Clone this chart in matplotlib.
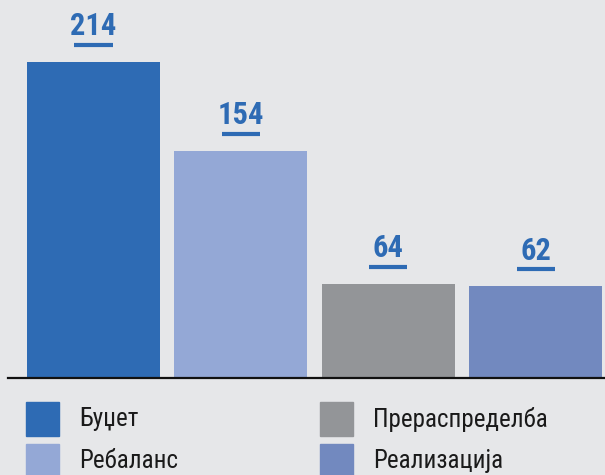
import matplotlib
matplotlib.use("Agg")
import matplotlib.pyplot as plt
from matplotlib import font_manager
from matplotlib.patches import Rectangle

categories = ["Буџет", "Ребаланс", "Прераспределба", "Реализација"]
values = [214, 154, 64, 62]
colors = ["#2e6bb4", "#94a8d6", "#939598", "#7289bf"]
label_color = "#2e6bb4"
bg = "#e6e7e9"

avail = {f.name for f in font_manager.fontManager.ttflist}
font = "DejaVu Sans"
for cand in ["Liberation Sans Narrow", "Roboto Condensed", "DejaVu Sans Condensed", "Roboto", "Noto Sans"]:
    if cand in avail:
        font = cand
        break
plt.rcParams["font.family"] = [font, "DejaVu Sans"]

W, H = 605, 475
fig = plt.figure(figsize=(W / 100, H / 100), dpi=100, facecolor=bg)
ax = fig.add_axes([8 / W, 97 / H, (W - 8) / W, (H - 97) / H])
ax.set_facecolor(bg)

x = list(range(len(values)))
ax.bar(x, values, width=0.903, color=colors, zorder=2)
ax.set_xlim(-0.58, 3.47)
ax.set_ylim(0, 256)

for i, v in zip(x, values):
    ax.annotate(str(v), xy=(i, v), xytext=(0, 15), textcoords="offset points",
                ha="center", va="bottom", fontsize=22, fontweight="bold",
                color=label_color)
    ax.plot([i - 0.13, i + 0.13], [v + 11.5, v + 11.5], color=label_color,
            lw=3, solid_capstyle="butt", zorder=3)

for s in ["top", "right", "left"]:
    ax.spines[s].set_visible(False)
ax.spines["bottom"].set_linewidth(1.6)
ax.spines["bottom"].set_color("#111111")
ax.set_xticks([])
ax.set_yticks([])

# legend
pos = [(26, 402), (26, 444), (320, 402), (320, 444)]
for (px, py), lab, c in zip(pos, categories, colors):
    fig.patches.append(Rectangle((px / W, 1 - (py + 34) / H), 33 / W, 34 / H,
                                 transform=fig.transFigure, color=c))
    fig.text((px + 53) / W, 1 - (py + 17) / H, lab, ha="left", va="center",
             fontsize=18, color="#1a1a1a")

fig.savefig("out.png", dpi=100, facecolor=bg)
